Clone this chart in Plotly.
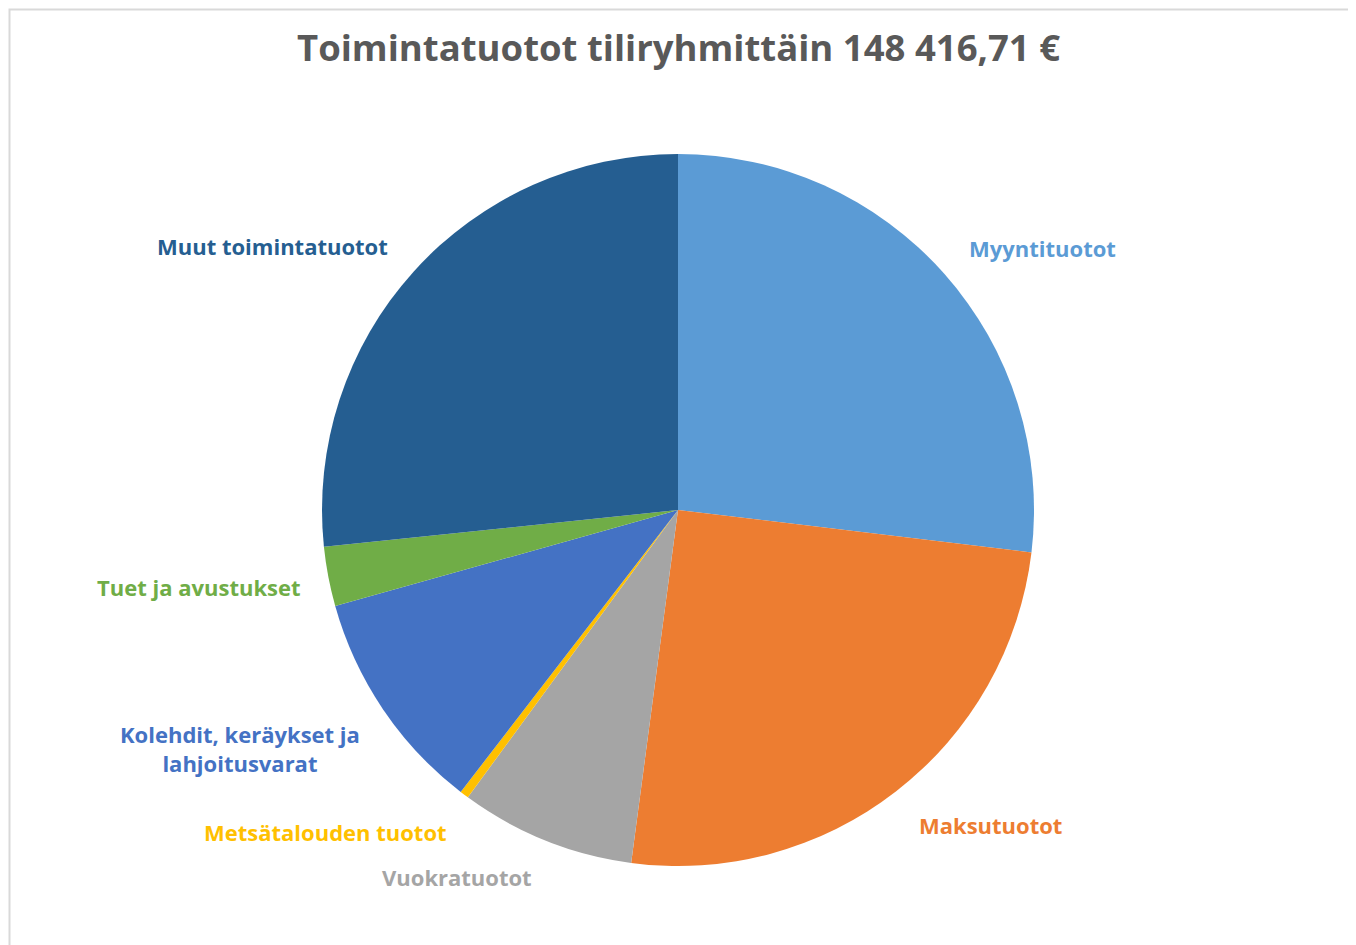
import plotly.graph_objects as go

labels = ["Myyntituotot", "Maksutuotot", "Vuokratuotot", "Metsätalouden tuotot",
          "Kolehdit, keräykset ja lahjoitusvarat", "Tuet ja avustukset", "Muut toimintatuotot"]
label_text = ["Myyntituotot", "Maksutuotot", "Vuokratuotot", "Metsätalouden tuotot",
              "Kolehdit, keräykset ja<br>lahjoitusvarat", "Tuet ja avustukset", "Muut toimintatuotot"]
values = [39924.0, 37401.0, 11799.0, 594.0, 15139.0, 4007.0, 39552.71]
colors = ["#5B9BD5", "#ED7D31", "#A5A5A5", "#FFC000", "#4472C4", "#70AD47", "#255E91"]
title_text = "Toimintatuotot tiliryhmittäin 148 416,71 €"

# page body has an 8px margin; work in reference-window pixels and shift
OFF = 8
W, H = 1356 - OFF, 945 - OFF


def px_x(x):
    return (x - OFF) / W


def px_y(y):
    return 1 - (y - OFF) / H


label_px = [(1042, 248), (990, 825), (457, 877), (325, 832), (240, 748), (199, 587), (272, 246)]
cx, cy, r = 678, 510, 356

fig = go.Figure(go.Pie(
    labels=labels, values=values, sort=False, direction="clockwise", rotation=0,
    marker=dict(colors=colors, line=dict(width=0)),
    textinfo="none", hoverinfo="label+value+percent", showlegend=False,
    domain=dict(x=[px_x(cx - r), px_x(cx + r)], y=[px_y(cy + r), px_y(cy - r)]),
))

for t, c, (px, py) in zip(label_text, colors, label_px):
    fig.add_annotation(x=px_x(px), y=px_y(py), xref="paper", yref="paper", text=t,
                       showarrow=False, xanchor="center", yanchor="middle", align="center",
                       font=dict(family="Open Sans", size=22, color=c, weight="bold"))

fig.add_annotation(x=px_x(678.5), y=px_y(47), xref="paper", yref="paper",
                   text=title_text, showarrow=False,
                   xanchor="center", yanchor="middle",
                   font=dict(family="Open Sans", size=36.5, color="#595959", weight="bold"))

fig.add_shape(type="rect", xref="paper", yref="paper", x0=1.5 / W, x1=px_x(1350),
              y0=-0.02, y1=1 - 1.5 / H, line=dict(color="#D9D9D9", width=2))

fig.update_layout(width=W, height=H, margin=dict(l=0, r=0, t=0, b=0),
                  paper_bgcolor="white", plot_bgcolor="white")
fig.write_html("out.html")
